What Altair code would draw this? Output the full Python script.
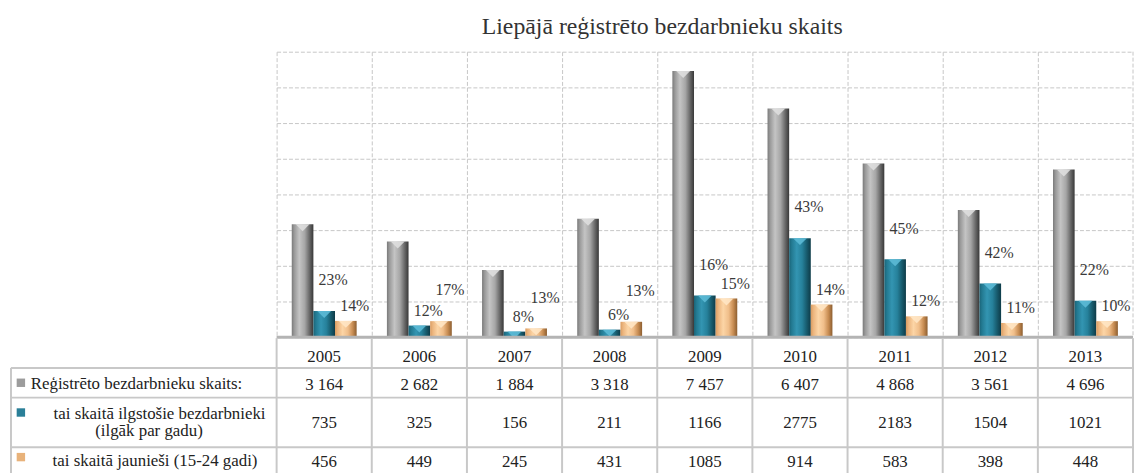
import altair as alt
import pandas as pd

years = ["2005", "2006", "2007", "2008", "2009", "2010", "2011", "2012", "2013"]
total = [3164, 2682, 1884, 3318, 7457, 6407, 4868, 3561, 4696]
longterm = [735, 325, 156, 211, 1166, 2775, 2183, 1504, 1021]
youth = [456, 449, 245, 431, 1085, 914, 583, 398, 448]
longterm_pct = ["23%", "12%", "8%", "6%", "16%", "43%", "45%", "42%", "22%"]
youth_pct = ["14%", "17%", "13%", "13%", "15%", "14%", "12%", "11%", "10%"]

series_keys = ["total", "long", "youth"]
row_label_total = "Reģistrēto bezdarbnieku skaits:"
row_label_long = ["tai skaitā ilgstošie bezdarbnieki", "(ilgāk par gadu)"]
row_label_youth = "tai skaitā jaunieši (15-24 gadi)"
title_text = "Liepājā reģistrēto bezdarbnieku skaits"
y_ticks = [0, 1000, 2000, 3000, 4000, 5000, 6000, 7000, 8000]

SERIF = "Liberation Serif"
GRID = "#c6c6c6"
TABLE = "#c8c8c8"
W, H, TH = 864, 288, 139

# ---------- data frames ----------
bars_df = pd.DataFrame({
    "year": years * 3,
    "key": ["total"] * 9 + ["long"] * 9 + ["youth"] * 9,
    "value": total + longterm + youth,
})
lp = [int(s.rstrip("%")) for s in longterm_pct]
yp = [int(s.rstrip("%")) for s in youth_pct]
lab_df = pd.DataFrame({
    "year": years * 2,
    "key": ["long"] * 9 + ["youth"] * 9,
    "value": longterm + youth,
    "label": longterm_pct + youth_pct,
    "upper": [a > b for a, b in zip(lp, yp)] + [b > a for a, b in zip(lp, yp)],
})
tab_df = pd.DataFrame({
    "year": years,
    "total_s": [f"{v:,}".replace(",", " ") for v in total],
    "long_s": [str(v) for v in longterm],
    "youth_s": [str(v) for v in youth],
})
one = pd.DataFrame({"a": [0]})

# ---------- encodings ----------
X = alt.X("year:N", sort=years, scale=alt.Scale(paddingInner=0, paddingOuter=0),
          axis=alt.Axis(grid=True, bandPosition=0, labels=False, ticks=False, domain=False,
                        title=None, gridDash=[4, 2], gridColor=GRID, gridWidth=1))
XO = alt.XOffset("key:N", sort=series_keys,
                 scale=alt.Scale(domain=series_keys, paddingOuter=0.7, paddingInner=0))
Y = alt.Y("value:Q", scale=alt.Scale(domain=[0, 8000], nice=False),
          axis=alt.Axis(values=y_ticks, grid=True, labels=False, ticks=False, domain=False,
                        title=None, gridDash=[4, 2], gridColor=GRID, gridWidth=1))


def grad(stops):
    return alt.Gradient(gradient="linear", x1=0, x2=1, y1=0, y2=0,
                        stops=[alt.GradientStop(offset=o, color=c) for o, c in stops])


styles = {
    "total": (grad([(0, "#7a7a7a"), (0.12, "#9a9a9a"), (0.35, "#c4c4c4"), (0.6, "#a6a6a6"),
                    (0.82, "#686868"), (1, "#383838")]), "#dedede"),
    "long": (grad([(0, "#1a6478"), (0.12, "#237a92"), (0.35, "#3395b2"), (0.6, "#26819b"),
                   (0.82, "#175a6c"), (1, "#0e3b48")]), "#5cbad6"),
    "youth": (grad([(0, "#d99c62"), (0.12, "#ecb57e"), (0.35, "#fcd5a6"), (0.6, "#f0be8a"),
                    (0.82, "#c78c52"), (1, "#8c5e30")]), "#ffe6c4"),
}

layers = []
for k in series_keys:
    g, tip = styles[k]
    base = alt.Chart(bars_df[bars_df.key == k]).encode(x=X, xOffset=XO, y=Y)
    layers.append(base.mark_bar(color=g))
    layers.append(base.mark_point(shape="M-1,0L1,0L0,1Z", size=196, filled=True,
                                  color=tip, opacity=0.9, strokeWidth=0))

lab_base = alt.Chart(lab_df).encode(x=X, xOffset=XO, y=Y, text="label:N")
layers.append(lab_base.transform_filter("datum.upper").mark_text(
    dy=-31, dx=9, font=SERIF, fontSize=16, color="#3a3a3a"))
layers.append(lab_base.transform_filter("!datum.upper").mark_text(
    dy=-15, dx=9, font=SERIF, fontSize=16, color="#3a3a3a"))

# right dashed border, baseline, title, invisible top bound
layers.append(alt.Chart(one).mark_rule(strokeDash=[4, 2], color=GRID).encode(
    x=alt.value(W), y=alt.value(0), y2=alt.value(H)))
layers.append(alt.Chart(one).mark_rule(color="#b4b4b4", strokeWidth=3).encode(
    x=alt.value(0), x2=alt.value(W), y=alt.value(H)))
layers.append(alt.Chart(pd.DataFrame({"t": [title_text]})).mark_text(
    font=SERIF, fontSize=24, color="#333333", baseline="alphabetic", align="center").encode(
    x=alt.value(389), y=alt.value(-18), text="t:N"))
layers.append(alt.Chart(one).mark_rule(strokeWidth=0, opacity=0).encode(
    x=alt.value(0), y=alt.value(-41), y2=alt.value(0)))

top = alt.layer(*layers).properties(width=W, height=H)

# ---------- table ----------
Xb = alt.X("year:N", sort=years, scale=alt.Scale(paddingInner=0, paddingOuter=0), axis=None)
Xb0 = alt.X("year:N", sort=years, scale=alt.Scale(paddingInner=0, paddingOuter=0), axis=None,
            bandPosition=0)
tl = []
tl.append(alt.Chart(tab_df).mark_rule(color=TABLE, strokeWidth=2).encode(
    x=Xb0, y=alt.value(1), y2=alt.value(TH)))
tl.append(alt.Chart(one).mark_rule(color=TABLE, strokeWidth=2).encode(
    x=alt.value(W), y=alt.value(1), y2=alt.value(TH)))
tl.append(alt.Chart(one).mark_rule(color=TABLE, strokeWidth=2).encode(
    x=alt.value(-268), y=alt.value(31), y2=alt.value(TH)))
for yy in [31, 61, 111]:
    tl.append(alt.Chart(one).mark_rule(color=TABLE, strokeWidth=2).encode(
        x=alt.value(-268), x2=alt.value(W), y=alt.value(yy)))

txt = dict(font=SERIF, fontSize=17, color="#222222", baseline="alphabetic")
tb = alt.Chart(tab_df).encode(x=Xb)
tl.append(tb.mark_text(**txt).encode(y=alt.value(25), text="year:N"))
tl.append(tb.mark_text(**txt).encode(y=alt.value(53), text="total_s:N"))
tl.append(tb.mark_text(**txt).encode(y=alt.value(92), text="long_s:N"))
tl.append(tb.mark_text(**txt).encode(y=alt.value(131), text="youth_s:N"))

for text, xx, yy in [(row_label_total, -248, 52), (row_label_long[0], -225, 83),
                     (row_label_long[1], -183, 100), (row_label_youth, -226, 130)]:
    tl.append(alt.Chart(pd.DataFrame({"t": [text]})).mark_text(align="left", **txt).encode(
        x=alt.value(xx), y=alt.value(yy), text="t:N"))

for col, yy in [("#9c9c9c", 46), ("#2a7f98", 76), ("#e8b27a", 121)]:
    tl.append(alt.Chart(one).mark_square(size=72, color=col, opacity=1).encode(
        x=alt.value(-258), y=alt.value(yy)))

bottom = alt.layer(*tl).properties(width=W, height=TH)

chart = alt.vconcat(top, bottom, spacing=0, bounds="flush").resolve_scale(
    x="independent", y="independent").properties(
    padding={"left": 1, "top": 0, "right": 0, "bottom": 0}
).configure_view(stroke="transparent")

chart.save("out.html", embed_options={"renderer": "svg", "actions": False})
